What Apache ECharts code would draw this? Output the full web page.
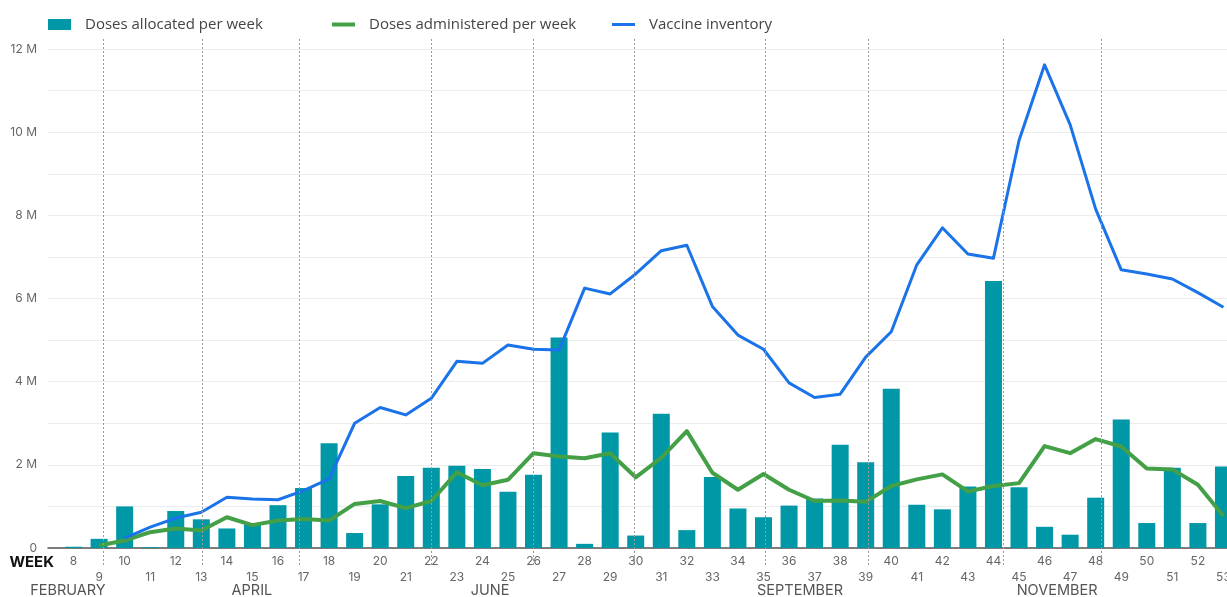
<!DOCTYPE html>
<html>
<head>
<meta charset="utf-8">
<script src="https://cdn.jsdelivr.net/npm/echarts@6/dist/echarts.min.js"></script>
<style>
html,body{margin:0;padding:0;background:#fff;}
#c{width:1227px;height:597px;}
</style>
</head>
<body>
<div id="c"></div>
<script>
// Week categories (ISO weeks); '' pads the axis before week 8 and after week 53
const weeks = ['', '8','9','10','11','12','13','14','15','16','17','18','19','20','21','22','23','24','25','26','27','28','29','30','31','32','33','34','35','36','37','38','39','40','41','42','43','44','45','46','47','48','49','50','51','52','53', ''];

// Values in millions of doses, weeks 8..53
const allocated = [0.03,0.22,1.00,0.02,0.89,0.69,0.47,0.57,1.03,1.44,2.52,0.36,1.05,1.73,1.93,1.98,1.90,1.35,1.76,5.06,0.10,2.78,0.30,3.23,0.43,1.71,0.95,0.74,1.02,1.19,2.48,2.06,3.83,1.04,0.93,1.48,6.42,1.46,0.51,0.32,1.21,3.09,0.60,1.93,0.60,1.96];
const administered = [null,0.06,0.18,0.38,0.47,0.42,0.74,0.55,0.66,0.70,0.66,1.06,1.13,0.96,1.13,1.82,1.51,1.64,2.28,2.20,2.16,2.28,1.70,2.17,2.81,1.81,1.40,1.78,1.40,1.13,1.14,1.11,1.49,1.65,1.77,1.36,1.49,1.56,2.45,2.28,2.62,2.44,1.91,1.89,1.52,0.77];
const inventory = [null,null,0.24,0.50,0.72,0.86,1.22,1.18,1.16,1.38,1.66,3.00,3.38,3.20,3.60,4.49,4.44,4.88,4.78,4.76,6.25,6.11,6.59,7.15,7.28,5.81,5.12,4.78,3.97,3.62,3.70,4.59,5.20,6.81,7.70,7.07,6.97,9.80,11.62,10.18,8.15,6.69,6.59,6.47,6.14,5.79];

// Month boundaries (fractional week positions) and month labels
const monthStarts = [9.15, 13.05, 16.85, 22.0, 26.0, 29.95, 35.05, 39.1, 44.4, 48.2];
const monthLabelWeeks = [7.78, 14.98, 24.3, 36.43, 46.49];
const monthNames = ['FEBRUARY', 'APRIL', 'JUNE', 'SEPTEMBER', 'NOVEMBER'];

const yTicksMax = 12;

const pad = arr => [null].concat(arr, [null]);

const chart = echarts.init(document.getElementById('c'));
const axisFont = 'Inter, "Open Sans", sans-serif';
const legendText = {color: '#444', fontSize: 15, fontFamily: '"Open Sans", sans-serif', padding: [0,0,0,9]};

chart.setOption({
  animation: false,
  backgroundColor: '#fff',
  legend: [
    {left: 48, top: 17, padding: 0, itemWidth: 23, itemHeight: 11, icon: 'rect', textStyle: legendText, data: ['Doses allocated per week'], selectedMode: false},
    {left: 332, top: 17, padding: 0, itemWidth: 23, itemHeight: 4, icon: 'rect', textStyle: legendText, data: ['Doses administered per week'], selectedMode: false},
    {left: 612, top: 17, padding: 0, itemWidth: 23, itemHeight: 3, icon: 'rect', textStyle: legendText, data: ['Vaccine inventory'], selectedMode: false}
  ],
  grid: [
    {left: 48, right: -22, top: 49, bottom: 49, containLabel: false, outerBoundsMode: 'none'},
    {left: 48, right: -22, top: 39, bottom: 32, containLabel: false, outerBoundsMode: 'none'}
  ],
  xAxis: [
    {
      type: 'category', gridIndex: 0, data: weeks, boundaryGap: false,
      axisLine: {lineStyle: {color: '#555', width: 1.5}},
      axisTick: {show: false},
      splitLine: {show: false},
      name: 'WEEK', nameLocation: 'start', nameGap: -6,
      nameTextStyle: {color: '#111', fontWeight: 'bold', fontSize: 15, fontFamily: axisFont, verticalAlign: 'top', padding: [7,0,0,0]},
      axisLabel: {
        interval: 0, color: '#666', fontSize: 12, fontFamily: axisFont, margin: 5, lineHeight: 16,
        formatter: v => v === '' ? '' : (Number(v) % 2 === 0 ? v : '\n' + v)
      }
    },
    {type: 'value', gridIndex: 1, min: 7, max: 54, show: false},
    {
      type: 'value', gridIndex: 0, min: 7, max: 54, position: 'bottom',
      axisLine: {show: false}, axisTick: {show: false}, splitLine: {show: false},
      axisLabel: {
        customValues: monthLabelWeeks, margin: 35, color: '#555', fontSize: 14.5, fontFamily: axisFont,
        showMinLabel: true, showMaxLabel: true,
        formatter: v => {
          let best = 0;
          monthLabelWeeks.forEach((w, i) => { if (Math.abs(w - v) < Math.abs(monthLabelWeeks[best] - v)) best = i; });
          return monthNames[best];
        }
      }
    }
  ],
  yAxis: [
    {
      type: 'value', gridIndex: 0, min: 0, max: yTicksMax, interval: 1,
      axisLine: {show: false}, axisTick: {show: false},
      splitLine: {lineStyle: {color: '#ececec', width: 1}},
      axisLabel: {
        color: '#666', fontSize: 12, fontFamily: axisFont, margin: 11,
        formatter: v => v % 2 === 0 ? (v === 0 ? '0' : v + ' M') : ''
      }
    },
    {type: 'value', gridIndex: 1, min: 0, max: 1, show: false}
  ],
  series: [
    {
      name: 'Doses allocated per week', type: 'bar', xAxisIndex: 0, yAxisIndex: 0,
      data: pad(allocated), barWidth: 17, itemStyle: {color: '#0097a7'}, z: 2
    },
    {
      name: 'month lines', type: 'scatter', xAxisIndex: 1, yAxisIndex: 1, data: [], z: 5,
      markLine: {
        silent: true, symbol: ['none', 'none'], label: {show: false},
        lineStyle: {color: '#9a9a9a', type: [2, 2], width: 1},
        data: monthStarts.map(w => ({xAxis: w}))
      }
    },
    {
      name: 'Doses administered per week', type: 'line', xAxisIndex: 0, yAxisIndex: 0,
      data: pad(administered), showSymbol: false, symbol: 'none',
      lineStyle: {color: '#43a047', width: 4, join: 'round'}, itemStyle: {color: '#43a047'}, z: 4
    },
    {
      name: 'Vaccine inventory', type: 'line', xAxisIndex: 0, yAxisIndex: 0,
      data: pad(inventory), showSymbol: false, symbol: 'none',
      lineStyle: {color: '#1a73e8', width: 3, join: 'round'}, itemStyle: {color: '#1a73e8'}, z: 4
    }
  ]
});
</script>
</body>
</html>
